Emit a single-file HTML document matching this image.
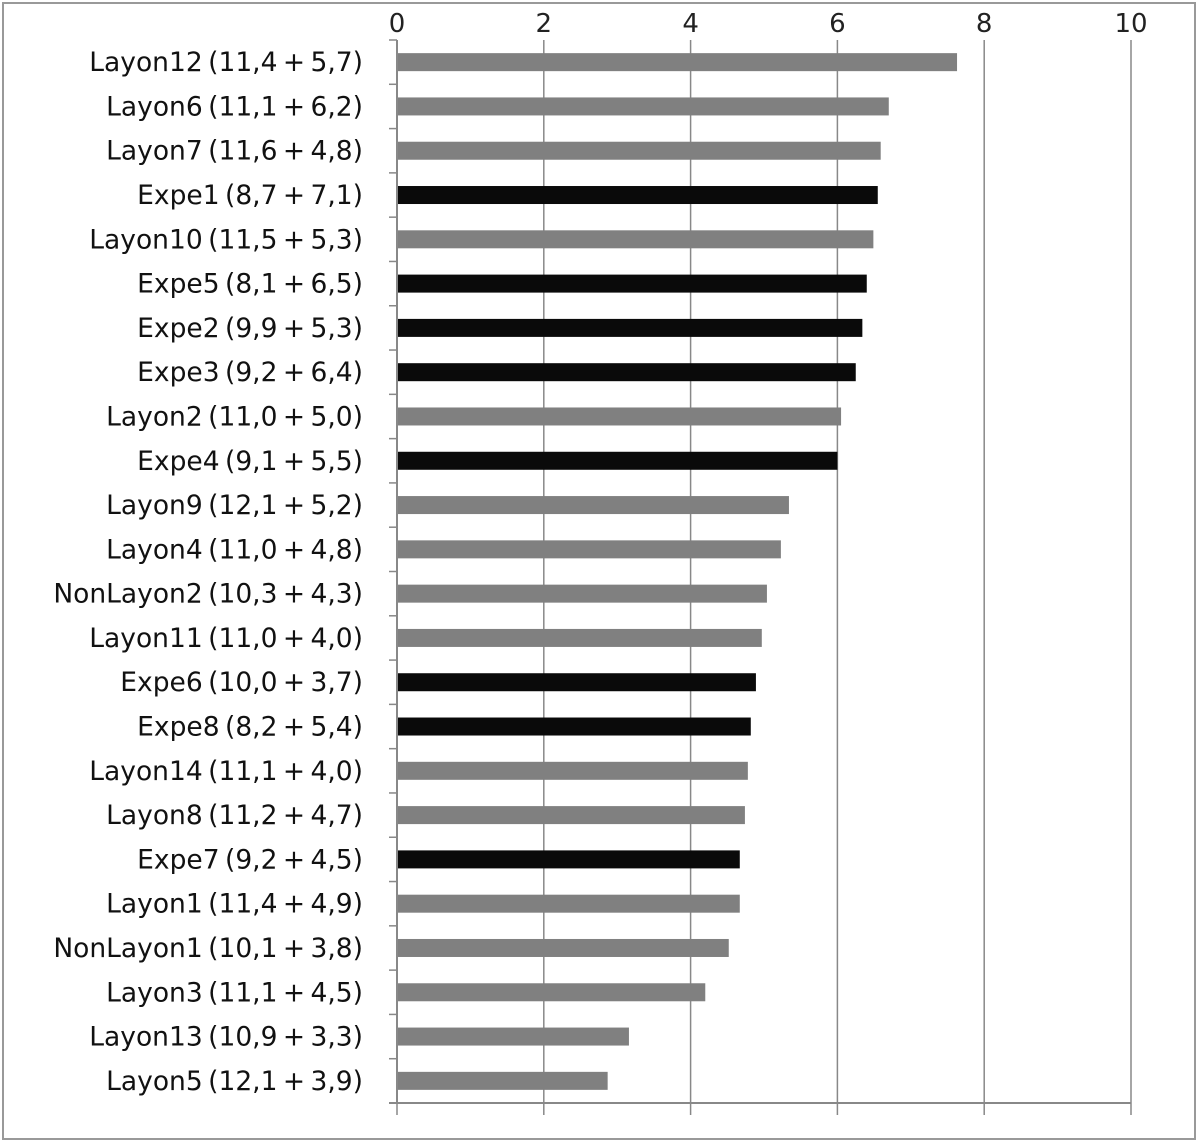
<!DOCTYPE html>
<html><head><meta charset="utf-8"><style>
body{margin:0;background:#fff;}
text{font-family:"DejaVu Sans","Liberation Sans",sans-serif;}
</style></head><body>
<svg id="chart" width="1200" height="1143" xmlns="http://www.w3.org/2000/svg">
<rect x="3" y="3" width="1192" height="1136" fill="#fff" stroke="#999" stroke-width="2"/>
<g id="grid"></g><g id="bars"></g><g id="axes"></g>
</svg>
<script>
const categories=["Layon12 (11,4 + 5,7)","Layon6 (11,1 + 6,2)","Layon7 (11,6 + 4,8)","Expe1 (8,7 + 7,1)","Layon10 (11,5 + 5,3)","Expe5 (8,1 + 6,5)","Expe2 (9,9 + 5,3)","Expe3 (9,2 + 6,4)","Layon2 (11,0 + 5,0)","Expe4 (9,1 + 5,5)","Layon9 (12,1 + 5,2)","Layon4 (11,0 + 4,8)","NonLayon2 (10,3 + 4,3)","Layon11 (11,0 + 4,0)","Expe6 (10,0 + 3,7)","Expe8 (8,2 + 5,4)","Layon14 (11,1 + 4,0)","Layon8 (11,2 + 4,7)","Expe7 (9,2 + 4,5)","Layon1 (11,4 + 4,9)","NonLayon1 (10,1 + 3,8)","Layon3 (11,1 + 4,5)","Layon13 (10,9 + 3,3)","Layon5 (12,1 + 3,9)"];
const values=[7.63,6.70,6.59,6.55,6.49,6.40,6.34,6.25,6.05,6.00,5.34,5.23,5.04,4.97,4.89,4.82,4.78,4.74,4.67,4.67,4.52,4.20,3.16,2.87];
const groups=["L","L","L","E","L","E","E","E","L","E","L","L","N","L","E","E","L","L","E","L","N","L","L","L"];
const tickValues=[0,2,4,6,8,10];
const NS="http://www.w3.org/2000/svg";
const x0=397,x1=1131,yTop=40,yBot=1103;
const xs=v=>x0+(x1-x0)*v/10;
const band=(yBot-yTop)/categories.length;
const yc=i=>yTop+band*(i+0.5);
function mk(tag,attrs,parent){const e=document.createElementNS(NS,tag);for(const k in attrs)e.setAttribute(k,attrs[k]);document.getElementById(parent).appendChild(e);return e;}
tickValues.forEach(t=>{
  const g=mk('line',{x1:xs(t),x2:xs(t),y1:yTop,y2:yBot+12,stroke:'#888','stroke-width':1.5},'grid');
  
  
  const tx=mk('text',{x:xs(t),y:32,'text-anchor':'middle','font-size':26,fill:'#222'},'axes');
  tx.textContent=t;
  
  
});
categories.forEach((c,i)=>{
  const b=mk('rect',{x:x0,y:yc(i)-9,width:xs(values[i])-x0,height:18,fill:groups[i]==='E'?'#0a0a0a':'#808080'},'bars');
  
  
  const t=mk('text',{x:363,y:yc(i)+9,'text-anchor':'end','font-size':26.5,fill:'#111','word-spacing':-3},'axes');
  t.textContent=c;
  
  
});
for(let i=0;i<=categories.length;i++){
  const y=yTop+band*i;
  const tk=mk('line',{x1:x0-8,x2:x0,y1:y,y2:y,stroke:'#888','stroke-width':1.5},'axes');
  
  
}
const ya=mk('line',{x1:x0,x2:x0,y1:yTop,y2:yBot,stroke:'#888','stroke-width':2},'axes');


const xa=mk('line',{x1:x0-8,x2:x1,y1:yBot,y2:yBot,stroke:'#888','stroke-width':2},'axes');


</script>
</body></html>
